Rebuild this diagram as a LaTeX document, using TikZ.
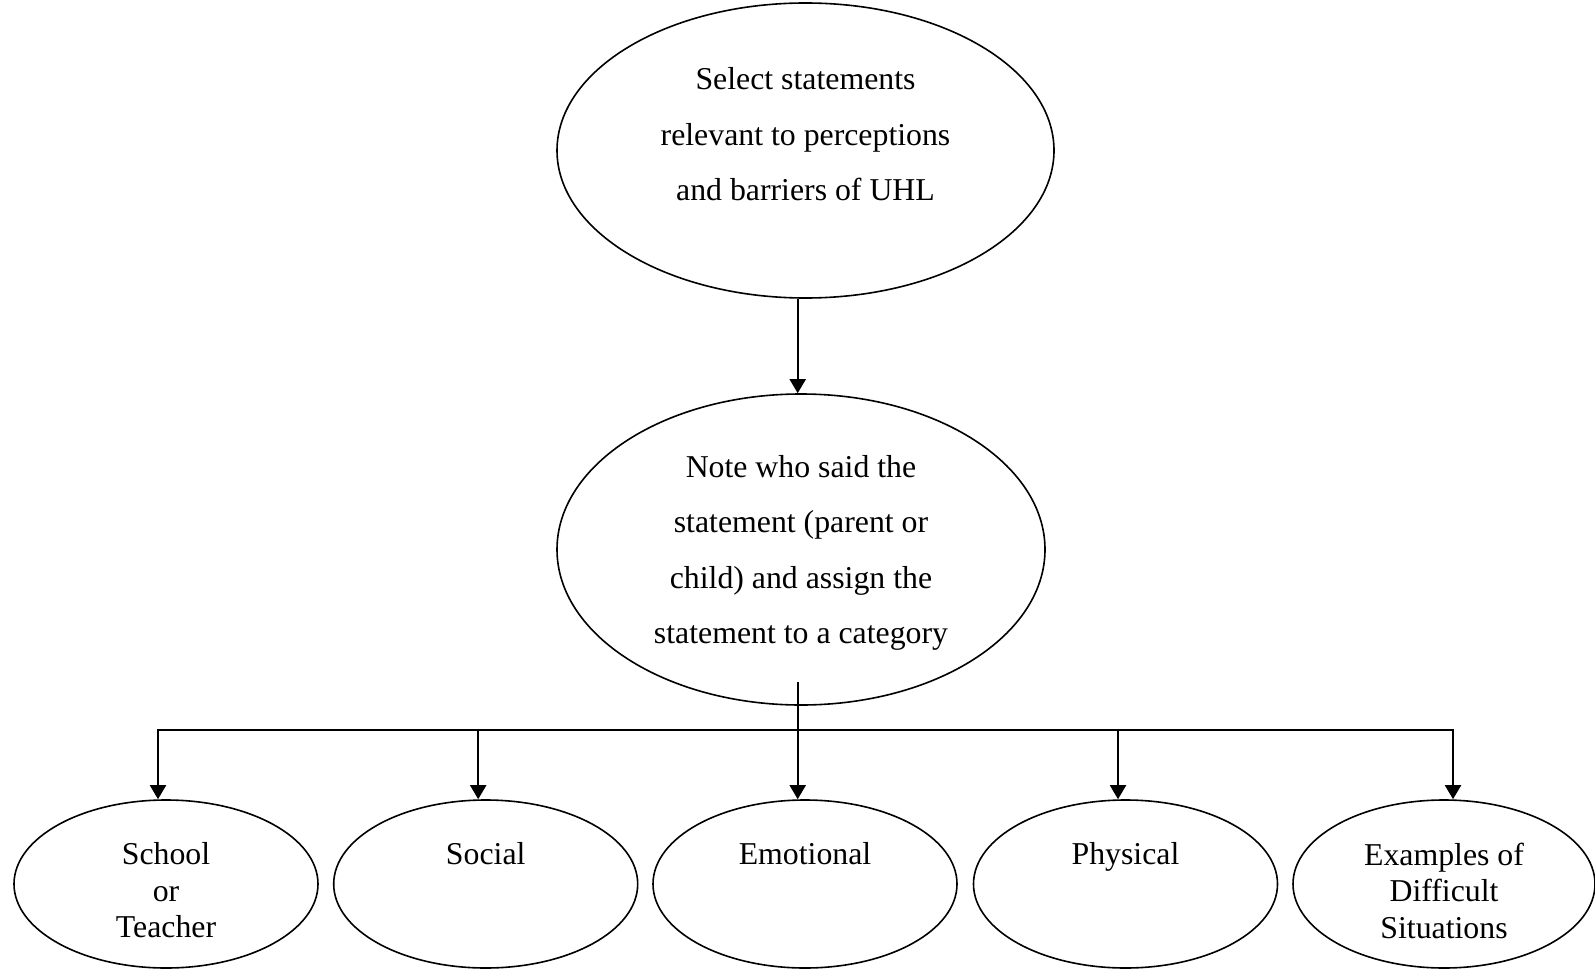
\documentclass[tikz,border=0pt]{standalone}
\usepackage{fontspec}
\setmainfont{Liberation Serif}
\usetikzlibrary{shapes.geometric,arrows.meta}

\begin{document}
\begin{tikzpicture}[x=1pt, y=-1pt, >={Triangle[length=14pt,width=16pt]},
	main node/.style={ellipse,draw,line width=1.6pt,inner sep=0pt},
	top node/.style={main node,minimum width=497pt,minimum height=295pt},
	mid node/.style={main node,minimum width=488pt,minimum height=311pt},
	leaf node/.style={main node,minimum width=304pt,minimum height=168pt},
	big text/.style={anchor=north,inner sep=0pt,align=center,font=\fontsize{31.8}{55.5}\selectfont},
	leaf text/.style={big text,font=\fontsize{31.8}{36.6}\selectfont},
	link/.style={->,line width=2pt}]
	\useasboundingbox (0,0) rectangle (1595,971);
	
	% ellipses
	\node[top node] (select) at (805.5,150.5) {};
	\node[mid node] (note) at (801,549.5) {};
	\node[leaf node] (school) at (166,884) {};
	\node[leaf node] (social) at (485.7,884) {};
	\node[leaf node] (emotional) at (805,884) {};
	\node[leaf node] (physical) at (1125.5,884) {};
	\node[leaf node,minimum width=302pt] (examples) at (1444,884) {};
	
	% texts
	\node[big text] (select text) at (805.5,67.5) {Select statements\\relevant to perceptions\\and barriers of UHL};
	\node[big text] (note text) at (801,455) {Note who said the\\statement (parent or\\child) and assign the\\statement to a category};
	\node[leaf text] (school text) at (166,842.5) {School\\or\\Teacher};
	\node[leaf text] (social text) at (485.7,842.5) {Social};
	\node[leaf text] (emotional text) at (805,842.5) {Emotional};
	\node[leaf text] (physical text) at (1125.5,842.5) {Physical};
	\node[leaf text] (examples text) at (1444,842.5) {Examples of\\Difficult\\Situations};
	
	% connectors
	\coordinate (stem) at (797.7,682);
	\coordinate (trunk) at (797.7,730);
	\draw[link] (select.south -| trunk) -- (note.north -| trunk);
	\draw[link] (stem) -- (emotional.north -| trunk);
	\draw[link] (trunk) -| ([xshift=-8pt]school.north);
	\draw[link] (trunk) -| ([xshift=-7.5pt]social.north);
	\draw[link] (trunk) -| ([xshift=-7.5pt]physical.north);
	\draw[link] (trunk) -| ([xshift=9pt]examples.north);
\end{tikzpicture}
\end{document}
